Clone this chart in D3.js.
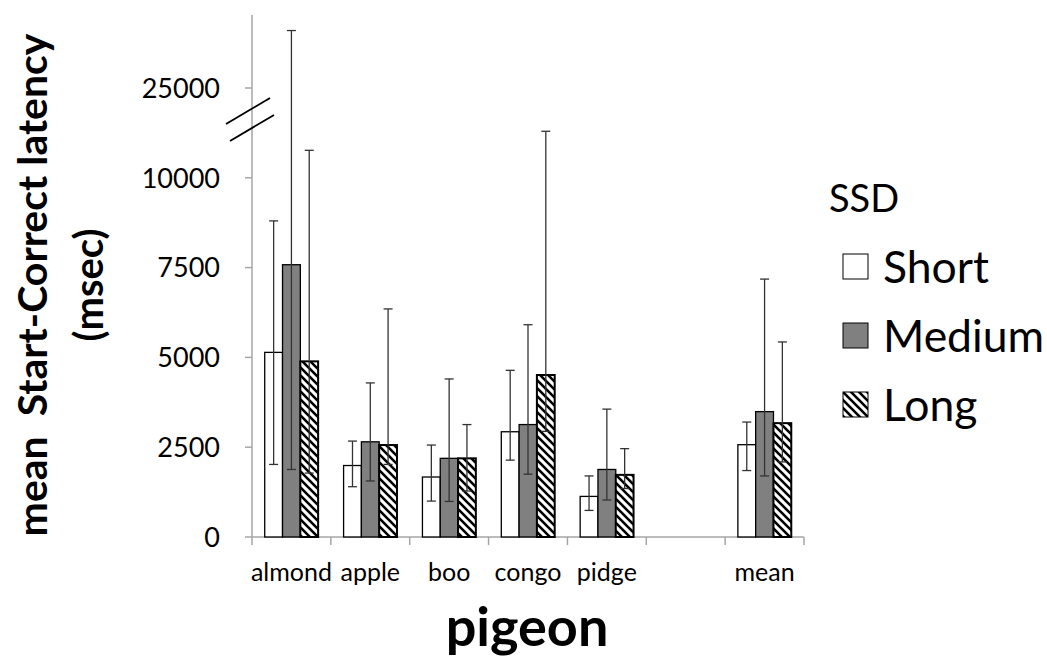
<!DOCTYPE html>
<html>
<head>
<meta charset="utf-8">
<script src="https://cdn.jsdelivr.net/npm/d3@7"></script>
<style>
  body { margin: 0; background: #fff; }
  svg { display: block; font-family: Lato, "Noto Sans", sans-serif; }
</style>
</head>
<body>
<svg id="chart"></svg>
<script>
// data (msec)
const categories = ["almond", "apple", "boo", "congo", "pidge", "", "mean"];
const seriesNames = ["Short", "Medium", "Long"];

const shortVals  = [5140, 1990, 1670, 2930, 1130, null, 2570];
const mediumVals = [7580, 2650, 2190, 3130, 1880, null, 3490];
const longVals   = [4890, 2560, 2190, 4510, 1730, null, 3170];

// error bar ends (upper / lower)
const shortHi  = [8800, 2670, 2560, 4640, 1700, null, 3200];
const shortLo  = [2020, 1400, 1000, 2140, 740, null, 1850];
const mediumHi = [26600, 4290, 4400, 5910, 3560, null, 7180];
const mediumLo = [1880, 1560, 990, 1750, 1030, null, 1700];
const longHi   = [14590, 6350, 3130, 17770, 2460, null, 5430];
const longLo   = [1780, 2020, 1280, 2940, 1350, null, 2090];

const yTicks = [0, 2500, 5000, 7500, 10000, 25000];

const W = 1047, H = 657;
const margin = { top: 15, left: 252, right: 243, bottom: 120 };
const width = W - margin.left - margin.right;
const height = H - margin.top - margin.bottom;

const svg = d3.select("#chart").attr("width", W).attr("height", H);

// hatch pattern
const defs = svg.append("defs");
defs.append("pattern")
    .attr("id", "hatch")
    .attr("patternUnits", "userSpaceOnUse")
    .attr("width", 8).attr("height", 8)
    .call(p => {
        p.append("rect").attr("width", 8).attr("height", 8).attr("fill", "#fff");
        p.append("path")
            .attr("d", "M-2,-2L10,10M-2,6L2,10M6,-2L10,2")
            .attr("stroke", "#000").attr("stroke-width", 2.6);
    });

const fills = { Short: "#ffffff", Medium: "#808080", Long: "url(#hatch)" };
const strokeW = { Short: 1.3, Medium: 1.3, Long: 2 };

const g = svg.append("g").attr("transform", `translate(${margin.left},${margin.top})`);

// broken y scale: 10000 -> 25000 squeezed into one tick step
const step = 89.8;
const y = d3.scaleLinear()
    .domain([0, 10000, 25000, 27000])
    .range([height, height - 4 * step, height - 5 * step, height - 5.8 * step]);

const x = d3.scaleBand().domain(categories).range([0, width]).padding(0);
const groupW = 53.4;
const xs = d3.scaleBand().domain(seriesNames)
    .range([(x.bandwidth() - groupW) / 2, (x.bandwidth() + groupW) / 2]);

const rows = [];
categories.forEach((c, i) => {
    [[shortVals, shortHi, shortLo], [mediumVals, mediumHi, mediumLo], [longVals, longHi, longLo]]
        .forEach((arr, k) => {
            if (arr[0][i] == null) return;
            rows.push({ cat: c, s: seriesNames[k], v: arr[0][i], hi: arr[1][i], lo: arr[2][i] });
        });
});

// axes
const axisColor = "#a6a6a6";
g.append("line").attr("x1", 0).attr("x2", 0).attr("y1", 0).attr("y2", height)
    .attr("stroke", axisColor).attr("stroke-width", 1.5);
g.append("line").attr("x1", 0).attr("x2", width).attr("y1", height).attr("y2", height)
    .attr("stroke", axisColor).attr("stroke-width", 1.5);

g.selectAll(".ytick").data(yTicks).enter().append("line")
    .attr("x1", -7).attr("x2", 0)
    .attr("y1", d => y(d)).attr("y2", d => y(d))
    .attr("stroke", axisColor).attr("stroke-width", 1.5);

g.selectAll(".ylab").data(yTicks).enter().append("text")
    .attr("x", -32).attr("y", d => y(d)).attr("dy", "0.36em")
    .attr("text-anchor", "end")
    .attr("font-size", 27).attr("fill", "#000")
    .text(d => d);

const xEdges = categories.map(c => x(c)).concat([width]);
g.selectAll(".xtick").data(xEdges).enter().append("line")
    .attr("x1", d => d).attr("x2", d => d)
    .attr("y1", height).attr("y2", height + 8)
    .attr("stroke", axisColor).attr("stroke-width", 1.5);

g.selectAll(".xlab").data(categories).enter().append("text")
    .attr("x", d => x(d) + x.bandwidth() / 2).attr("y", height + 44)
    .attr("text-anchor", "middle")
    .attr("font-size", 25).attr("fill", "#000")
    .text(d => d);

// axis break marks
const yb = y(25000);
[[-26, 10], [-22, 27]].forEach(([dx, dy]) => {
    g.append("line")
        .attr("x1", dx).attr("y1", yb + dy + 26)
        .attr("x2", dx + 44).attr("y2", yb + dy)
        .attr("stroke", "#000").attr("stroke-width", 1.8);
});

// bars
g.selectAll(".bar").data(rows).enter().append("rect")
    .attr("x", d => x(d.cat) + xs(d.s))
    .attr("y", d => y(d.v))
    .attr("width", xs.bandwidth())
    .attr("height", d => height - y(d.v))
    .attr("fill", d => fills[d.s])
    .attr("stroke", "#000")
    .attr("stroke-width", d => strokeW[d.s]);

// error bars
const eb = g.selectAll(".err").data(rows).enter().append("g")
    .attr("transform", d => `translate(${x(d.cat) + xs(d.s) + xs.bandwidth() / 2},0)`)
    .attr("stroke", "#333").attr("stroke-width", 1.3);
eb.append("line").attr("y1", d => y(d.hi)).attr("y2", d => y(d.lo));
eb.append("line").attr("x1", -4.5).attr("x2", 4.5).attr("y1", d => y(d.hi)).attr("y2", d => y(d.hi));
eb.append("line").attr("x1", -4.5).attr("x2", 4.5).attr("y1", d => y(d.lo)).attr("y2", d => y(d.lo));

// axis titles
svg.append("text")
    .attr("transform", "translate(47,285) rotate(-90)")
    .attr("text-anchor", "middle")
    .attr("font-size", 41).attr("font-weight", "bold")
    .style("white-space", "pre")
    .text("mean  Start-Correct latency");
svg.append("text")
    .attr("transform", "translate(103,285) rotate(-90)")
    .attr("text-anchor", "middle")
    .attr("font-size", 40).attr("font-weight", "bold")
    .text("(msec)");

svg.append("text")
    .attr("x", 527).attr("y", 646)
    .attr("text-anchor", "middle")
    .attr("font-size", 54).attr("font-weight", "bold")
    .text("pigeon");

// legend
const lg = svg.append("g").attr("transform", "translate(829,0)");
lg.append("text").attr("x", 0).attr("y", 212).attr("font-size", 38).text("SSD");
const li = lg.selectAll(".li").data(seriesNames).enter().append("g")
    .attr("transform", (d, i) => `translate(14,${254 + i * 69})`);
li.append("rect").attr("width", 25).attr("height", 25)
    .attr("fill", d => fills[d]).attr("stroke", "#000").attr("stroke-width", 1);
li.append("text").attr("x", 40).attr("y", 12.5).attr("dy", "0.36em")
    .attr("font-size", 44.5).text(d => d);
</script>
</body>
</html>
